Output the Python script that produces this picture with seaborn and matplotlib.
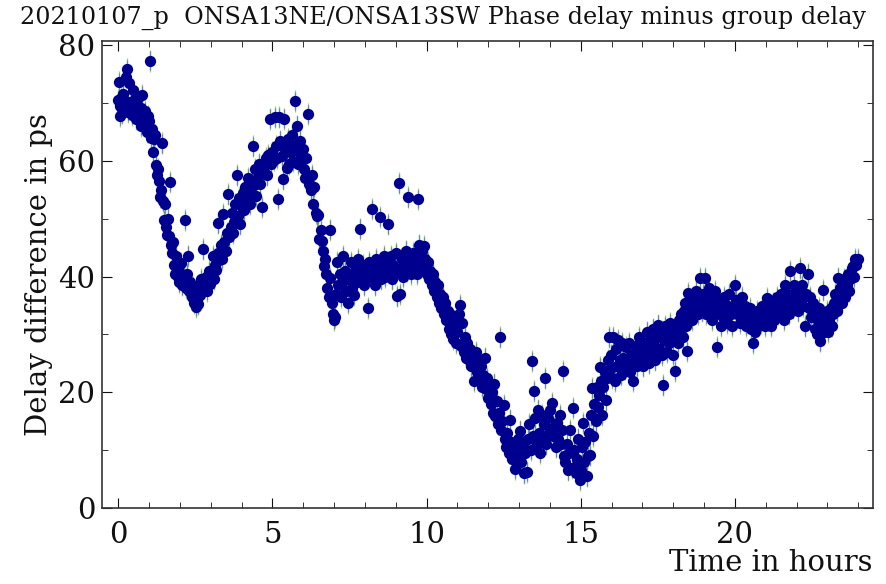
import matplotlib
matplotlib.use("Agg")
import matplotlib.pyplot as plt
import seaborn as sns
import pandas as pd
from matplotlib.ticker import MultipleLocator

# phase delay minus group delay (hours, ps)
hours = [
    0.00, 0.02, 0.04, 0.06, 0.10, 0.13, 0.16, 0.20, 0.24, 0.28, 0.30, 0.33, 0.36, 0.40, 0.43, 0.46,
    0.48, 0.52, 0.55, 0.58, 0.62, 0.65, 0.68, 0.72, 0.75, 0.78, 0.82, 0.85, 0.88, 0.92, 0.95, 1.00,
    1.03, 1.06, 1.10, 1.13, 1.16, 1.19, 1.22, 1.25, 1.28, 1.32, 1.35, 1.38, 1.41, 1.45, 1.48, 1.52,
    1.55, 1.58, 1.62, 1.65, 1.68, 1.72, 1.75, 1.78, 1.82, 1.85, 1.88, 1.92, 1.95, 1.98, 2.02, 2.05,
    2.08, 2.12, 2.16, 2.20, 2.23, 2.27, 2.30, 2.34, 2.38, 2.42, 2.45, 2.48, 2.52, 2.55, 2.58, 2.62,
    2.65, 2.68, 2.72, 2.76, 2.80, 2.84, 2.88, 2.92, 2.95, 2.98, 3.02, 3.06, 3.10, 3.14, 3.18, 3.22,
    3.24, 3.28, 3.32, 3.36, 3.40, 3.44, 3.48, 3.52, 3.56, 3.60, 3.64, 3.68, 3.72, 3.76, 3.80, 3.84,
    3.88, 3.92, 3.96, 4.00, 4.04, 4.08, 4.12, 4.16, 4.20, 4.24, 4.28, 4.32, 4.37, 4.40, 4.44, 4.48,
    4.52, 4.56, 4.60, 4.65, 4.70, 4.74, 4.78, 4.82, 4.86, 4.92, 4.96, 5.00, 5.04, 5.08, 5.12, 5.16,
    5.18, 5.22, 5.26, 5.30, 5.34, 5.38, 5.42, 5.46, 5.50, 5.54, 5.58, 5.62, 5.66, 5.70, 5.73, 5.78,
    5.82, 5.86, 5.90, 5.94, 5.98, 6.02, 6.06, 6.10, 6.16, 6.20, 6.24, 6.28, 6.32, 6.36, 6.40, 6.44,
    6.47, 6.52, 6.56, 6.60, 6.64, 6.66, 6.70, 6.74, 6.78, 6.82, 6.87, 6.88, 6.92, 6.96, 7.00, 7.03,
    7.06, 7.10, 7.14, 7.18, 7.22, 7.26, 7.30, 7.34, 7.38, 7.42, 7.46, 7.50, 7.54, 7.58, 7.62, 7.66,
    7.70, 7.74, 7.78, 7.84, 7.88, 7.92, 7.96, 8.00, 8.04, 8.10, 8.14, 8.18, 8.23, 8.27, 8.31, 8.35,
    8.40, 8.45, 8.49, 8.53, 8.57, 8.62, 8.66, 8.70, 8.75, 8.79, 8.83, 8.87, 8.92, 8.96, 9.00, 9.05,
    9.10, 9.12, 9.16, 9.20, 9.24, 9.28, 9.32, 9.36, 9.40, 9.44, 9.48, 9.52, 9.56, 9.60, 9.64, 9.68,
    9.72, 9.76, 9.80, 9.84, 9.88, 9.92, 9.96, 10.00, 10.04, 10.08, 10.12, 10.16, 10.20, 10.24, 10.28, 10.32,
    10.36, 10.40, 10.44, 10.48, 10.52, 10.56, 10.60, 10.64, 10.68, 10.72, 10.76, 10.80, 10.84, 10.87, 10.92, 10.96,
    11.00, 11.04, 11.08, 11.12, 11.15, 11.20, 11.24, 11.28, 11.32, 11.36, 11.40, 11.44, 11.48, 11.52, 11.56, 11.60,
    11.64, 11.68, 11.72, 11.76, 11.80, 11.84, 11.88, 11.92, 11.96, 12.00, 12.04, 12.08, 12.12, 12.16, 12.20, 12.23,
    12.27, 12.31, 12.35, 12.38, 12.42, 12.46, 12.50, 12.54, 12.58, 12.62, 12.66, 12.70, 12.74, 12.78, 12.82, 12.87,
    12.91, 12.95, 13.00, 13.03, 13.07, 13.11, 13.15, 13.19, 13.25, 13.29, 13.33, 13.37, 13.41, 13.45, 13.49, 13.53,
    13.57, 13.61, 13.65, 13.69, 13.73, 13.77, 13.81, 13.84, 13.88, 13.92, 13.96, 14.00, 14.06, 14.10, 14.14, 14.18,
    14.23, 14.27, 14.31, 14.35, 14.38, 14.42, 14.46, 14.50, 14.54, 14.58, 14.62, 14.66, 14.70, 14.75, 14.79, 14.83,
    14.87, 14.91, 14.95, 14.97, 15.00, 15.04, 15.07, 15.11, 15.15, 15.19, 15.23, 15.27, 15.30, 15.34, 15.37, 15.40,
    15.44, 15.48, 15.52, 15.56, 15.60, 15.62, 15.66, 15.69, 15.73, 15.77, 15.81, 15.85, 15.88, 15.90, 15.94, 15.98,
    16.02, 16.05, 16.10, 16.14, 16.18, 16.22, 16.26, 16.30, 16.34, 16.38, 16.42, 16.46, 16.50, 16.55, 16.60, 16.64,
    16.70, 16.74, 16.78, 16.82, 16.86, 16.90, 16.94, 16.98, 17.02, 17.06, 17.10, 17.14, 17.18, 17.22, 17.26, 17.30,
    17.34, 17.38, 17.42, 17.46, 17.50, 17.54, 17.58, 17.62, 17.67, 17.70, 17.74, 17.78, 17.82, 17.86, 17.90, 17.94,
    17.98, 18.02, 18.06, 18.10, 18.14, 18.18, 18.22, 18.26, 18.30, 18.34, 18.38, 18.42, 18.44, 18.48, 18.52, 18.56,
    18.60, 18.64, 18.68, 18.72, 18.76, 18.80, 18.84, 18.87, 18.92, 18.96, 19.00, 19.03, 19.07, 19.11, 19.15, 19.19,
    19.23, 19.27, 19.31, 19.35, 19.39, 19.42, 19.46, 19.50, 19.54, 19.58, 19.62, 19.66, 19.70, 19.74, 19.78, 19.82,
    19.86, 19.90, 19.94, 20.00, 20.04, 20.08, 20.12, 20.16, 20.20, 20.24, 20.28, 20.32, 20.36, 20.40, 20.44, 20.48,
    20.52, 20.56, 20.60, 20.64, 20.68, 20.72, 20.76, 20.80, 20.84, 20.88, 20.92, 20.96, 21.00, 21.04, 21.08, 21.12,
    21.16, 21.20, 21.24, 21.28, 21.32, 21.36, 21.40, 21.44, 21.48, 21.52, 21.56, 21.60, 21.63, 21.68, 21.72, 21.76,
    21.80, 21.84, 21.88, 21.92, 21.96, 22.00, 22.04, 22.10, 22.14, 22.18, 22.22, 22.27, 22.31, 22.36, 22.40, 22.44,
    22.48, 22.52, 22.54, 22.58, 22.62, 22.66, 22.70, 22.74, 22.76, 22.80, 22.84, 22.86, 22.90, 22.94, 22.98, 23.02,
    23.06, 23.10, 23.14, 23.18, 23.22, 23.26, 23.30, 23.35, 23.38, 23.42, 23.46, 23.50, 23.54, 23.58, 23.62, 23.66,
    23.70, 23.74, 23.78, 23.82, 23.86, 23.90, 23.94, 23.98,
]

delay_ps = [
    70.5, 73.6, 67.8, 69.5, 70.8, 68.2, 71.5, 69.0, 74.5, 75.8, 70.2, 68.5, 73.5, 70.0, 67.9, 69.8,
    72.2, 70.5, 68.8, 67.2, 69.5, 70.8, 68.0, 66.0, 69.2, 71.3, 67.5, 68.6, 66.5, 65.0, 67.8, 66.8,
    77.3, 64.0, 65.5, 61.5, 63.8, 64.5, 59.3, 57.5, 58.5, 56.5, 53.8, 55.0, 63.0, 53.0, 49.8, 52.5,
    48.5, 47.2, 50.0, 47.0, 56.3, 45.5, 44.0, 46.0, 42.0, 40.5, 43.5, 40.0, 41.5, 39.0, 42.3, 39.5,
    38.5, 40.2, 49.8, 38.0, 40.5, 43.6, 37.5, 39.0, 36.5, 38.2, 35.5, 37.0, 34.8, 36.2, 35.2, 38.5,
    36.8, 39.5, 37.8, 44.7, 38.5, 40.0, 37.5, 39.2, 41.0, 38.8, 40.5, 43.5, 39.5, 42.0, 41.2, 44.0,
    49.2, 42.8, 45.5, 43.0, 50.8, 46.0, 44.5, 47.5, 54.2, 46.8, 48.5, 51.0, 47.5, 49.5, 52.5, 57.5,
    50.5, 53.5, 49.0, 52.0, 54.5, 51.5, 55.5, 53.0, 57.0, 54.5, 52.5, 56.5, 62.5, 55.8, 58.5, 54.0,
    57.2, 59.5, 56.0, 52.0, 59.3, 58.0, 60.5, 57.5, 61.0, 67.3, 59.5, 61.5, 60.2, 67.5, 62.5, 60.5,
    53.4, 67.5, 63.5, 60.8, 56.8, 67.3, 62.0, 58.8, 63.8, 59.5, 61.5, 64.5, 60.0, 62.5, 70.3, 66.1,
    59.5, 61.5, 63.5, 60.2, 62.0, 58.5, 57.0, 60.5, 68.1, 56.0, 55.0, 57.5, 52.5, 55.5, 51.0, 50.5,
    50.7, 46.5, 48.0, 46.1, 44.5, 41.9, 43.0, 40.5, 38.0, 36.5, 48.1, 39.7, 35.5, 33.5, 32.5, 33.0,
    37.0, 42.5, 38.5, 40.5, 36.5, 39.0, 43.5, 41.0, 37.5, 39.5, 35.5, 40.0, 42.5, 38.0, 40.5, 36.8,
    41.5, 39.0, 43.0, 48.3, 40.0, 42.0, 38.5, 41.0, 39.5, 34.6, 42.5, 40.0, 51.7, 41.5, 38.5, 43.0,
    40.5, 42.0, 50.3, 39.5, 41.5, 43.5, 40.0, 42.5, 49.0, 41.0, 43.5, 39.5, 42.0, 40.5, 44.0, 36.6,
    56.1, 37.0, 41.5, 43.0, 40.0, 42.5, 44.5, 41.0, 53.7, 43.0, 40.5, 42.0, 44.0, 41.5, 43.5, 40.5,
    53.4, 45.5, 42.0, 44.5, 41.5, 45.3, 43.0, 40.5, 42.5, 39.5, 41.0, 38.5, 40.5, 37.5, 39.0, 36.5,
    38.5, 35.5, 37.0, 34.5, 36.5, 33.5, 35.5, 32.5, 34.0, 31.0, 33.5, 30.0, 32.5, 29.2, 31.5, 28.5,
    30.5, 33.5, 35.1, 28.0, 32.0, 27.0, 29.5, 26.0, 28.5, 25.5, 27.5, 24.5, 26.5, 22.0, 25.0, 27.0,
    23.5, 25.5, 22.5, 24.5, 21.0, 23.0, 26.0, 20.5, 22.5, 19.0, 21.5, 18.0, 20.0, 16.5, 21.5, 15.9,
    18.5, 14.5, 16.5, 29.5, 13.5, 15.0, 17.8, 12.0, 10.5, 13.0, 9.5, 15.3, 11.5, 8.5, 10.0, 6.8,
    9.0, 12.0, 10.5, 13.4, 8.0, 11.0, 6.0, 9.5, 6.3, 12.0, 14.5, 10.0, 25.4, 12.5, 20.2, 15.5,
    11.0, 17.0, 13.0, 9.5, 16.0, 12.0, 14.5, 22.4, 11.0, 15.5, 13.0, 17.0, 18.1, 12.5, 14.0, 10.5,
    14.7, 12.0, 16.0, 11.0, 13.5, 23.7, 9.0, 8.0, 11.0, 6.5, 9.5, 13.5, 7.0, 17.3, 10.0, 6.0,
    8.5, 12.0, 7.0, 4.9, 6.5, 10.5, 14.7, 8.0, 11.5, 5.5, 9.0, 13.0, 9.1, 16.0, 20.7, 12.5,
    18.0, 15.0, 21.0, 17.5, 19.5, 24.4, 22.0, 16.1, 21.0, 23.5, 18.6, 22.4, 25.5, 29.5, 24.0, 26.5,
    22.5, 29.5, 22.0, 27.5, 24.5, 29.0, 25.5, 23.0, 28.5, 26.0, 24.0, 27.8, 25.0, 28.5, 23.5, 26.5,
    22.0, 25.5, 28.0, 24.5, 27.0, 29.5, 25.5, 27.5, 24.5, 28.5, 26.0, 30.5, 27.0, 25.0, 29.0, 26.5,
    31.0, 28.0, 25.5, 29.5, 31.7, 27.5, 30.0, 26.5, 21.2, 29.0, 31.5, 27.0, 30.5, 28.5, 32.0, 29.0,
    26.5, 30.5, 23.7, 31.0, 28.5, 32.5, 30.0, 33.5, 29.5, 34.0, 35.4, 31.5, 27.1, 37.1, 33.0, 35.5,
    32.5, 36.0, 34.5, 37.5, 35.0, 33.5, 36.5, 39.7, 34.0, 37.0, 35.5, 39.7, 33.5, 36.5, 38.0, 34.5,
    36.0, 32.5, 35.0, 37.5, 33.5, 27.8, 36.0, 34.0, 31.5, 35.5, 33.0, 36.5, 34.5, 32.0, 35.0, 37.0,
    33.5, 31.5, 34.5, 38.5, 36.0, 33.5, 35.5, 32.0, 34.5, 36.5, 33.0, 35.0, 31.5, 33.5, 32.0, 34.5,
    31.0, 33.0, 28.6, 30.5, 32.5, 34.0, 31.5, 33.5, 32.0, 35.0, 33.0, 31.5, 34.5, 36.3, 32.5, 34.0,
    31.5, 33.5, 35.5, 32.5, 34.5, 36.5, 33.5, 35.5, 37.0, 34.0, 36.0, 32.5, 38.5, 35.0, 37.0, 33.5,
    41.0, 36.5, 34.5, 38.5, 35.5, 37.5, 34.0, 41.4, 36.0, 38.5, 35.0, 31.4, 37.0, 40.5, 34.5, 36.5,
    33.0, 35.5, 33.4, 31.0, 33.5, 30.0, 32.5, 34.5, 28.8, 31.5, 33.0, 37.6, 30.5, 32.0, 34.0, 30.5,
    32.5, 34.5, 31.5, 33.5, 35.5, 37.0, 34.0, 39.8, 36.0, 38.0, 35.5, 37.5, 39.5, 36.5, 38.5, 40.5,
    37.5, 39.5, 41.5, 41.9, 40.0, 43.0, 42.0, 43.0,
]

delay_err = 1.6

df = pd.DataFrame({"hours": hours, "delay": delay_ps})

sns.set_style("ticks")
plt.rcParams["font.family"] = ["DejaVu Serif"]

fig = plt.figure(figsize=(8.87, 5.84), dpi=100)
ax = fig.add_axes([0.1153, 0.130, 0.8687, 0.7998])

# error bars first (two shades, like the original), then the points
ax.errorbar(df["hours"], df["delay"], yerr=delay_err + 0.3, fmt="none",
            ecolor="#9ad07a", elinewidth=0.9, zorder=1)
ax.errorbar(df["hours"], df["delay"], yerr=delay_err, fmt="none",
            ecolor="#6a88a8", elinewidth=0.9, zorder=2)
sns.scatterplot(data=df, x="hours", y="delay", ax=ax, color="#00008f",
                s=66, linewidth=0, zorder=3, legend=False)

ax.set_xlim(-0.52, 24.47)
ax.set_ylim(0, 80.7)
ax.xaxis.set_major_locator(MultipleLocator(5))
ax.xaxis.set_minor_locator(MultipleLocator(1))
ax.yaxis.set_major_locator(MultipleLocator(20))
ax.yaxis.set_minor_locator(MultipleLocator(10))
ax.tick_params(which="both", direction="in", top=True, right=True, labelsize=21, colors="#111111")
ax.tick_params(axis="x", which="major", length=7, pad=9)
ax.tick_params(axis="y", which="major", length=7, pad=5)
ax.tick_params(which="minor", length=4)
for sp in ax.spines.values():
    sp.set_color("#333333")
    sp.set_linewidth(1.2)

ax.set_xlabel("Time in hours", fontsize=21, loc="right", labelpad=0, color="#111111")
ax.set_ylabel("Delay difference in ps", fontsize=21, labelpad=4, color="#111111")
fig.text(20 / 887, 1 - 18 / 584, "20210107_p  ONSA13NE/ONSA13SW Phase delay minus group delay",
         fontsize=17.2, ha="left", va="center", color="#111111")

fig.savefig("out.png", dpi=100)
